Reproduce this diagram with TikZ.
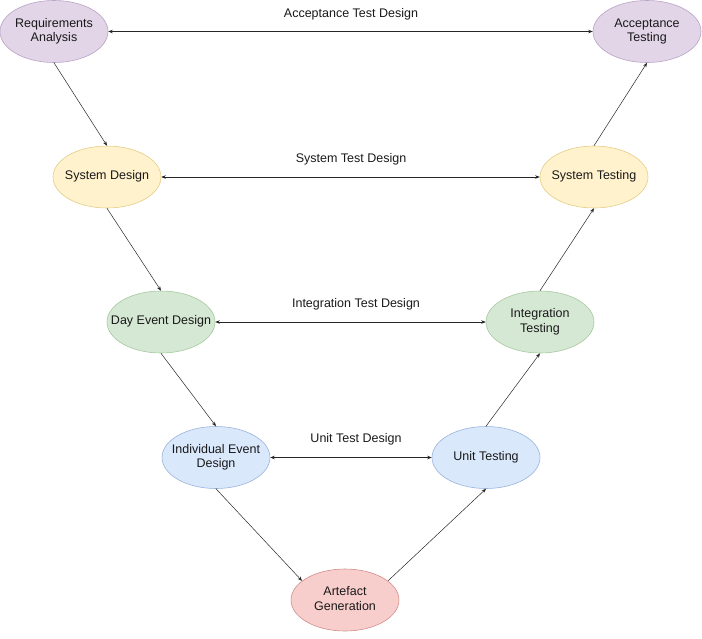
\documentclass[tikz,border=0pt]{standalone}
\usepackage{fontspec}
\setmainfont{Liberation Sans}
\usetikzlibrary{arrows.meta,shapes.geometric}
\definecolor{purF}{HTML}{E1D5E7}\definecolor{purS}{HTML}{B9A3C6}
\definecolor{yelF}{HTML}{FFF2CC}\definecolor{yelS}{HTML}{E3CD86}
\definecolor{grnF}{HTML}{D5E8D4}\definecolor{grnS}{HTML}{A6C99F}
\definecolor{bluF}{HTML}{DAE8FC}\definecolor{bluS}{HTML}{9AB3DA}
\definecolor{redF}{HTML}{F8CECC}\definecolor{redS}{HTML}{D08F8C}
\newcommand{\ptxt}[1]{\makebox[0pt]{\raisebox{-1.5pt}{\begin{tabular}{@{}c@{}}#1\end{tabular}}}}
\begin{document}
\begin{tikzpicture}[x=1pt,y=-1pt,
  phase/.style={ellipse, minimum width=108pt, minimum height=62pt, inner sep=0pt,
     line width=0.6pt, text=black!90, font=\fontsize{12.5}{14.5}\selectfont},
  lbl/.style={font=\fontsize{12.5}{14.5}\selectfont, text=black!90, inner sep=0pt},
  flow/.style={draw=black!85, line width=0.5pt, -{Stealth[length=4.5pt,width=3.5pt]}},
  both/.style={draw=black!85, line width=0.5pt, {Stealth[length=4.5pt,width=3.5pt]}-{Stealth[length=4.5pt,width=3.5pt]}}]
\useasboundingbox (0,0) rectangle (702,638);
\node[phase, fill=purF, draw=purS] (req) at (54,31.5) {\ptxt{Requirements\\Analysis}};
\node[phase, fill=purF, draw=purS] (acc) at (647,31.5) {\ptxt{Acceptance\\Testing}};
\node[phase, fill=yelF, draw=yelS] (sysd) at (107,177) {\ptxt{System Design}};
\node[phase, fill=yelF, draw=yelS] (syst) at (594,177) {\ptxt{System Testing}};
\node[phase, fill=grnF, draw=grnS] (day) at (161,322) {\ptxt{Day Event Design}};
\node[phase, fill=grnF, draw=grnS] (intt) at (540,322) {\ptxt{Integration\\Testing}};
\node[phase, fill=bluF, draw=bluS] (ind) at (216,457.5) {\ptxt{Individual Event\\Design}};
\node[phase, fill=bluF, draw=bluS] (unit) at (486,457.5) {\ptxt{Unit Testing}};
\node[phase, fill=redF, draw=redS] (art) at (345,600) {\ptxt{Artefact\\Generation}};

\node[lbl] (l1) at (351,14) {Acceptance Test Design};
\node[lbl] (l2) at (351,159) {System Test Design};
\node[lbl] (l3) at (356,304) {Integration Test Design};
\node[lbl] (l4) at (356,439.5) {Unit Test Design};

\draw[both] (req.east) -- (acc.west);
\draw[both] (sysd.east) -- (syst.west);
\draw[both] (day.east) -- (intt.west);
\draw[both] (ind.east) -- (unit.west);

\draw[flow] (req.south) -- (sysd.north);
\draw[flow] (sysd.south) -- (day.north);
\draw[flow] (day.south) -- (ind.north);
\draw[flow] (ind.south) -- (art.156);
\draw[flow] (art.24) -- (unit.south);
\draw[flow] (unit.north) -- (intt.south);
\draw[flow] (intt.north) -- (syst.south);
\draw[flow] (syst.north) -- (acc.south);
\end{tikzpicture}
\end{document}
